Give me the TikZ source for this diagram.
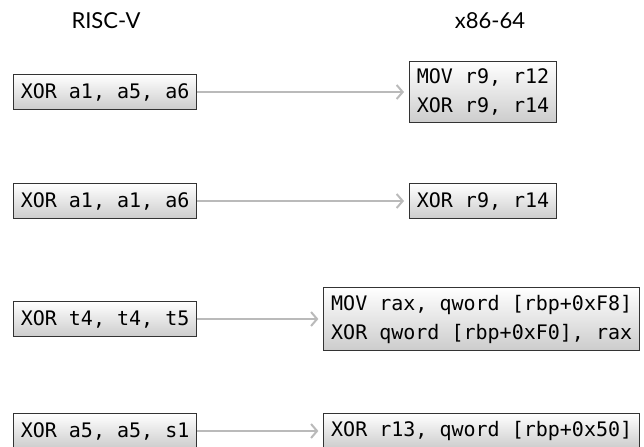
\documentclass[tikz,border=0pt]{standalone}
\usepackage{fontspec}
\setmainfont{Lato}
\setmonofont{DejaVu Sans Mono}
\usetikzlibrary{arrows.meta}

\begin{document}
\begin{tikzpicture}[x=0.5pt, y=-0.5pt,
  >={Straight Barb[length=3pt, width=7pt]},
  insn/.style={draw=black!80, line width=0.5pt, top color=white, bottom color=black!20,
    font=\ttfamily\fontsize{10}{14.5}\selectfont, inner xsep=3.65pt, inner ysep=3.75pt,
    minimum height=17.5pt, align=left},
  flow/.style={->, draw=black!27, line width=1pt, shorten >=2.5pt},
  isa/.style={font=\fontsize{11}{13}\selectfont}]
  \useasboundingbox (0,0) rectangle (644,446);
  % column headings
  \node[isa] (rv) at (106,21) {RISC-V};
  \node[isa] (x86) at (490,21) {x86-64};
  % xor with three distinct registers
  \node[insn, anchor=west] (rv1) at (13,92) {XOR a1, a5, a6};
  \node[insn, anchor=west] (xa1) at (409,92) {MOV r9, r12\\XOR r9, r14};
  \draw[flow] (rv1.east) -- (xa1.west);
  % destination equals first source
  \node[insn, anchor=west] (rv2) at (13,201) {XOR a1, a1, a6};
  \node[insn, anchor=west] (xa2) at (409,201) {XOR r9, r14};
  \draw[flow] (rv2.east) -- (xa2.west);
  % spilled registers
  \node[insn, anchor=west] (rv3) at (13,319) {XOR t4, t4, t5};
  \node[insn, anchor=east] (xa3) at (640,319) {MOV rax, qword [rbp+0xF8]\\XOR qword [rbp+0xF0], rax};
  \draw[flow] (rv3.east) -- (xa3.west);
  % source operand in memory
  \node[insn, anchor=west] (rv4) at (13,431) {XOR a5, a5, s1};
  \node[insn, anchor=east] (xa4) at (640,431) {XOR r13, qword [rbp+0x50]};
  \draw[flow] (rv4.east) -- (xa4.west);
\end{tikzpicture}
\end{document}
